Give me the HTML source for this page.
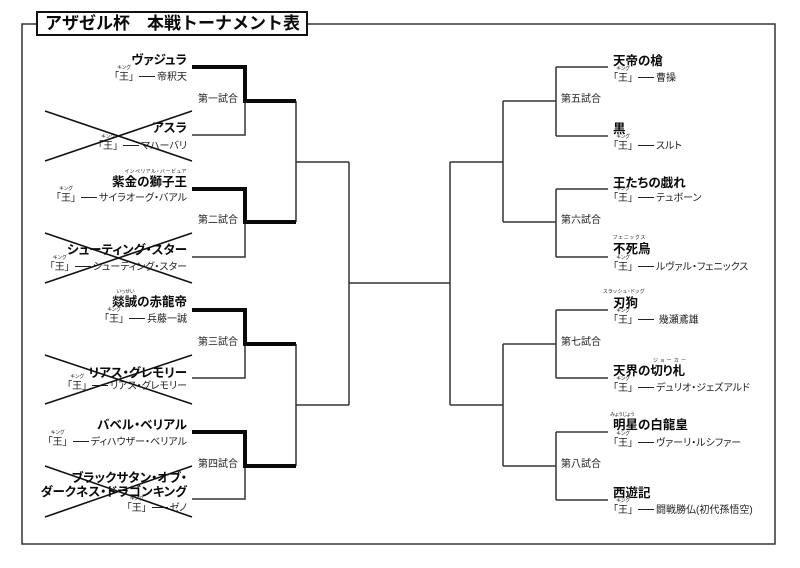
<!DOCTYPE html>
<html><head><meta charset="utf-8">
<style>
body{margin:0;background:#fff;}
#c{position:relative;width:800px;height:568px;overflow:hidden;background:#fff;font-family:"Liberation Sans","Noto Sans CJK JP",sans-serif;color:#111;}
svg{position:absolute;left:0;top:0;}
.t{position:absolute;white-space:nowrap;line-height:1;font-feature-settings:"palt";}
.L{right:613px;text-align:right;}
.R{left:613px;}
.n{font-size:12.5px;font-weight:bold;color:#0a0a0a;margin-top:1.5px;}
.s{font-size:10px;color:#222;margin-top:1px;}
.f{font-size:5px;color:#222;margin-top:1px;}
.lab{font-size:10px;color:#222;font-feature-settings:normal;}
.o{position:relative;}
.o i{position:absolute;font-style:normal;font-size:5px;left:50%;transform:translateX(-50%);top:-6px;white-space:nowrap;}
.d{display:inline-block;width:16px;height:0;border-top:1.3px solid #222;vertical-align:middle;margin:0 2px 0 5px;position:relative;top:-1px;}
.title{position:absolute;left:45px;top:14px;font-size:17px;font-weight:bold;line-height:20px;white-space:nowrap;color:#0a0a0a;}
</style></head><body>
<div id="c">
<svg width="800" height="568" viewBox="0 0 800 568">
 <rect x="22" y="24" width="753" height="520" fill="none" stroke="#333" stroke-width="1.5"/>
 <rect x="37" y="12" width="270" height="23" fill="#fff" stroke="#111" stroke-width="2"/>
 <g fill="none" stroke="#333" stroke-width="1.5">
  <path d="M192 135H245V101"/>
  <path d="M192 257H245V222"/>
  <path d="M192 378H245V344"/>
  <path d="M192 499H245V466"/>
  <path d="M296 101V222M296 162H349M296 344V466M296 405H349"/>
  <path d="M349 162V405M349 283H450M450 162V405"/>
  <path d="M450 162H503M450 405H503M503 101V222M503 344V466"/>
  <path d="M503 101H556M556 67V136M556 67H608M556 136H608"/>
  <path d="M503 222H556M556 189V257M556 189H608M556 257H608"/>
  <path d="M503 344H556M556 310V378M556 310H608M556 378H608"/>
  <path d="M503 466H556M556 432V500M556 432H608M556 500H608"/>
 </g>
 <g fill="none" stroke="#0a0a0a" stroke-width="4" stroke-linejoin="miter">
  <path d="M192 67H245V101H296"/>
  <path d="M192 189H245V222H296"/>
  <path d="M192 310H245V344H296"/>
  <path d="M192 432H245V466H296"/>
 </g>
</svg>

<div class="title">アザゼル杯　本戦トーナメント表</div>

<!-- Left side -->
<div class="t L n" style="top:52px">ヴァジュラ</div>
<div class="t L s" style="top:72px">「<span class="o">王<i>キング</i></span>」<span class="d"></span>帝釈天</div>

<div class="t L n" style="top:120px">アスラ</div>
<div class="t L s" style="top:141px">「<span class="o">王<i>キング</i></span>」<span class="d"></span>マハーバリ</div>

<div class="t L f" style="top:169px;letter-spacing:.8px">インペリアル・バービュア</div>
<div class="t L n" style="top:174px">紫金の獅子王</div>
<div class="t L s" style="top:193px">「<span class="o">王<i>キング</i></span>」<span class="d"></span>サイラオーグ・バアル</div>

<div class="t L n" style="top:242px">シューティング・スター</div>
<div class="t L s" style="top:262px">「<span class="o">王<i>キング</i></span>」<span class="d"></span>シューティング・スター</div>

<div class="t f" style="top:289px;left:113px;width:25px;text-align:center">いっせい</div>
<div class="t L n" style="top:294px">燚誠の赤龍帝</div>
<div class="t L s" style="top:314px">「<span class="o">王<i>キング</i></span>」<span class="d"></span>兵藤一誠</div>

<div class="t L n" style="top:365px">リアス・グレモリー</div>
<div class="t L s" style="top:381px">「<span class="o">王<i>キング</i></span>」<span class="d"></span>リアス・グレモリー</div>

<div class="t L n" style="top:417px">バベル・ベリアル</div>
<div class="t L s" style="top:437px">「<span class="o">王<i>キング</i></span>」<span class="d"></span>ディハウザー・ベリアル</div>

<div class="t L n" style="top:470px">ブラックサタン・オブ・</div>
<div class="t L n" style="top:484px">ダークネス・ドラゴンキング</div>
<div class="t L s" style="top:503px">「<span class="o">王<i>キング</i></span>」<span class="d"></span>ゼノ</div>

<!-- Match labels -->
<div class="t lab" style="left:198px;top:95px">第一試合</div>
<div class="t lab" style="left:198px;top:216px">第二試合</div>
<div class="t lab" style="left:198px;top:338px">第三試合</div>
<div class="t lab" style="left:198px;top:460px">第四試合</div>
<div class="t lab" style="left:561px;top:95px">第五試合</div>
<div class="t lab" style="left:561px;top:216px">第六試合</div>
<div class="t lab" style="left:561px;top:338px">第七試合</div>
<div class="t lab" style="left:561px;top:460px">第八試合</div>

<!-- Right side -->
<div class="t R n" style="top:53px">天帝の槍</div>
<div class="t R s" style="top:73px">「<span class="o">王<i>キング</i></span>」<span class="d"></span>曹操</div>

<div class="t R n" style="top:121px">黒</div>
<div class="t R s" style="top:141px">「<span class="o">王<i>キング</i></span>」<span class="d"></span>スルト</div>

<div class="t R n" style="top:175px">王たちの戯れ</div>
<div class="t R s" style="top:193px">「<span class="o">王<i>キング</i></span>」<span class="d"></span>テュボーン</div>

<div class="t f" style="top:235px;left:613px;letter-spacing:1.3px">フェニックス</div>
<div class="t R n" style="top:241px">不死鳥</div>
<div class="t R s" style="top:262px">「<span class="o">王<i>キング</i></span>」<span class="d"></span>ルヴァル・フェニックス</div>

<div class="t f" style="top:289px;left:603px;letter-spacing:.6px">スラッシュ・ドッグ</div>
<div class="t R n" style="top:295px">刃狗</div>
<div class="t R s" style="top:315px">「<span class="o">王<i>キング</i></span>」<span class="d"></span>&nbsp;幾瀬鳶雄</div>

<div class="t f" style="top:358px;left:653px;letter-spacing:2.5px">ジョーカー</div>
<div class="t R n" style="top:363px">天界の切り札</div>
<div class="t R s" style="top:383px">「<span class="o">王<i>キング</i></span>」<span class="d"></span>デュリオ・ジェズアルド</div>

<div class="t f" style="top:412px;left:610px">みょうじょう</div>
<div class="t R n" style="top:417px">明星の白龍皇</div>
<div class="t R s" style="top:438px">「<span class="o">王<i>キング</i></span>」<span class="d"></span>ヴァーリ・ルシファー</div>

<div class="t R n" style="top:485px">西遊記</div>
<div class="t R s" style="top:505px">「<span class="o">王<i>キング</i></span>」<span class="d"></span>闘戦勝仏(初代孫悟空)</div>

<svg width="800" height="568" viewBox="0 0 800 568">
 <g stroke="#111" stroke-width="1.6" fill="none">
  <path d="M45 111L192 161M45 161L192 111"/>
  <path d="M45 233L192 283M45 283L192 233"/>
  <path d="M45 355L192 404M45 404L192 355"/>
  <path d="M45 466L192 517M45 517L192 466"/>
 </g>
</svg>
</div>
</body></html>
